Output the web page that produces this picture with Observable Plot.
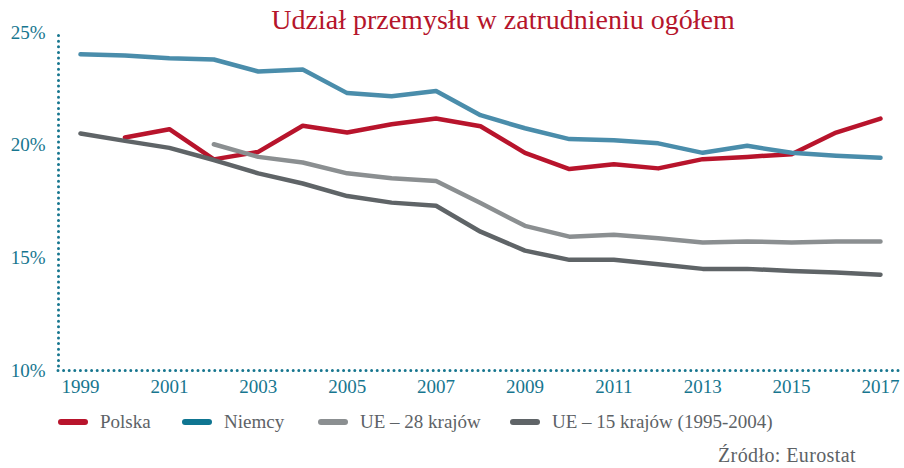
<!DOCTYPE html>
<html>
<head>
<meta charset="utf-8">
<script src="https://cdn.jsdelivr.net/npm/d3@7"></script>
<script src="https://cdn.jsdelivr.net/npm/@observablehq/plot@0.6"></script>
<style>
  html, body { margin: 0; padding: 0; background: #fff; }
  #wrap { position: relative; width: 904px; height: 468px; overflow: hidden; font-family: "Liberation Serif", "DejaVu Serif", serif; }
  #title { position: absolute; left: 0; width: 1006px; top: 4px; text-align: center; font-size: 28px; color: #b5152b; white-space: nowrap; }
  .leg { position: absolute; top: 411px; font-size: 19px; color: #5d6266; white-space: nowrap; display: flex; align-items: center; }
  .sw { display: inline-block; width: 30px; height: 6px; border-radius: 3px; margin-right: 12px; }
  #src { position: absolute; right: 48px; top: 444px; font-size: 20px; color: #5d6266; letter-spacing: 0.4px; }
  svg { position: absolute; left: 0; top: 0; }
</style>
</head>
<body>
<div id="wrap">
  <div id="chart"></div>
  <div id="title">Udział przemysłu w zatrudnieniu ogółem</div>
  <div id="legend"></div>
  <div id="src">Źródło: Eurostat</div>
</div>
<script>
const years = [1999, 2000, 2001, 2002, 2003, 2004, 2005, 2006, 2007, 2008, 2009, 2010, 2011, 2012, 2013, 2014, 2015, 2016, 2017];
const polska = [null, 20.34, 20.71, 19.37, 19.70, 20.86, 20.56, 20.93, 21.18, 20.84, 19.66, 18.94, 19.15, 18.97, 19.38, 19.48, 19.60, 20.56, 21.18];
const niemcy = [24.03, 23.98, 23.86, 23.80, 23.27, 23.36, 22.31, 22.17, 22.40, 21.33, 20.75, 20.27, 20.22, 20.08, 19.66, 19.97, 19.66, 19.53, 19.44];
const ue28 = [null, null, null, 20.04, 19.48, 19.23, 18.75, 18.53, 18.41, 17.43, 16.42, 15.94, 16.02, 15.87, 15.68, 15.73, 15.68, 15.73, 15.73];
const ue15 = [20.52, 20.19, 19.88, 19.34, 18.75, 18.30, 17.74, 17.45, 17.31, 16.16, 15.32, 14.91, 14.91, 14.72, 14.51, 14.51, 14.42, 14.35, 14.25];

const seriesNames = ["Polska", "Niemcy", "UE – 28 krajów", "UE – 15 krajów (1995-2004)"];
const seriesValues = [polska, niemcy, ue28, ue15];
const lineColors = ["#b8142c", "#4a8dab", "#8b8f91", "#5f6467"];
const legendColors = ["#b8142c", "#0f7591", "#8b8f91", "#5f6467"];
const legendLeft = [58, 182, 318, 510];

const xTicks = [1999, 2001, 2003, 2005, 2007, 2009, 2011, 2013, 2015, 2017];
const yTicks = [10, 15, 20, 25];

const axisColor = "#17768f";

const rows = [];
seriesNames.forEach((name, i) => {
  years.forEach((yr, j) => {
    const v = seriesValues[i][j];
    if (v != null) rows.push({series: name, year: yr, value: v, color: lineColors[i]});
  });
});

const drawOrder = [0, 3, 2, 1];

const chart = Plot.plot({
  width: 904,
  height: 468,
  marginTop: 32,
  marginBottom: 98,
  marginLeft: 58,
  marginRight: 4,
  insetLeft: 22,
  insetRight: 20,
  style: {fontFamily: "Liberation Serif, serif", fontSize: "19px", background: "transparent"},
  x: {domain: [1999, 2017], ticks: xTicks, tickFormat: "d"},
  y: {domain: [10, 25], ticks: yTicks, tickFormat: d => d + "%"},
  marks: [
    Plot.axisX({ticks: xTicks, tickFormat: "d", tickSize: 0, tickPadding: 9, label: null, fill: axisColor, fontSize: 19}),
    Plot.axisY({ticks: yTicks, tickFormat: d => d + "%", tickSize: 0, tickPadding: 13, label: null, fill: axisColor, fontSize: 19}),
    Plot.ruleY([10], {stroke: axisColor, strokeWidth: 3, strokeDasharray: "0 5.6", strokeLinecap: "round"}),
    Plot.ruleX([1999], {dx: -22, y1: 10, y2: 25, insetTop: -4, stroke: axisColor, strokeWidth: 3, strokeDasharray: "0 5.6", strokeLinecap: "round"}),
    ...drawOrder.map(i => Plot.line(rows.filter(r => r.series === seriesNames[i]), {
      x: "year", y: "value", stroke: lineColors[i], strokeWidth: 4.5,
      strokeLinecap: "round", strokeLinejoin: "round"
    }))
  ]
});
document.getElementById("chart").appendChild(chart);

const legend = document.getElementById("legend");
seriesNames.forEach((name, i) => {
  const d = document.createElement("div");
  d.className = "leg";
  d.style.left = legendLeft[i] + "px";
  const sw = document.createElement("span");
  sw.className = "sw";
  sw.style.background = legendColors[i];
  d.appendChild(sw);
  d.appendChild(document.createTextNode(name));
  legend.appendChild(d);
});
</script>
</body>
</html>
